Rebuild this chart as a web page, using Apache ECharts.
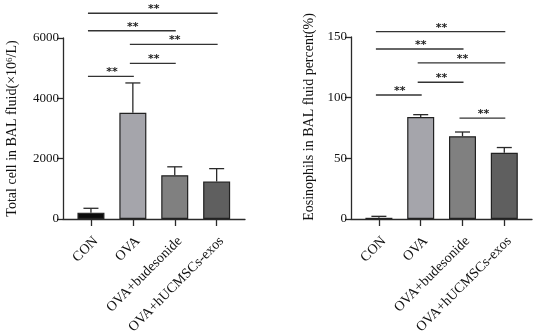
<!DOCTYPE html>
<html>
<head>
<meta charset="utf-8">
<script src="https://cdn.jsdelivr.net/npm/echarts@6/dist/echarts.min.js"></script>
<style>
  html, body { margin: 0; padding: 0; background: #fff; }
  #chart { width: 533px; height: 331px; }
</style>
</head>
<body>
<div id="chart"></div>
<script>
// groups on the x axis (same for both panels)
var groups = ['CON', 'OVA', 'OVA+budesonide', 'OVA+hUCMSCs-exos'];

// left panel: total cell count (x10^6/L), mean and upper error
var totalCell = [210, 3520, 1450, 1240];
var totalCellErr = [145, 990, 280, 430];
var totalTicks = [0, 2000, 4000, 6000];

// right panel: eosinophil percent
var eosPercent = [1.0, 84.0, 68.2, 54.6];
var eosErr = [1.2, 2.0, 3.5, 4.3];
var eosTicks = [0, 50, 100, 150];

// significance brackets: [from group, to group, bracket height in data units]
var totalSig = [[0, 1, 4730], [1, 2, 5160], [1, 3, 5790], [0, 2, 6240], [0, 3, 6820]];
var eosSig = [[0, 1, 102.2], [1, 2, 112.7], [1, 3, 128.6], [0, 2, 140.1], [0, 3, 154.4], [2, 3, 83.2]];

var barColors = ['#0b0b0b', '#a5a5ab', '#808080', '#5f5f5f'];
var ink = '#2a2a2a';
var serif = '"Liberation Serif", "Times New Roman", serif';

var myChart = echarts.init(document.getElementById('chart'));

function errRender(params, api) {
    var base = api.coord([api.value(0), api.value(1)]);
    var top = api.coord([api.value(0), api.value(1) + api.value(2)]);
    return {
        type: 'group',
        children: [
            {type: 'line', shape: {x1: base[0], y1: base[1], x2: top[0], y2: top[1]},
             style: {stroke: ink, lineWidth: 1.3}},
            {type: 'line', shape: {x1: top[0] - 7.5, y1: top[1], x2: top[0] + 7.5, y2: top[1]},
             style: {stroke: ink, lineWidth: 1.3}}
        ]
    };
}

function sigRender(params, api) {
    var a = api.coord([api.value(0), api.value(2)]);
    var b = api.coord([api.value(1), api.value(2)]);
    return {
        type: 'group',
        children: [
            {type: 'line', shape: {x1: a[0] - 3, y1: a[1], x2: b[0] + 1, y2: a[1]},
             style: {stroke: '#333', lineWidth: 1.3}},
            {type: 'text', x: (a[0] + b[0]) / 2, y: a[1] - 4,
             style: {text: '**', fill: '#222', font: 'bold 11px "DejaVu Sans"', align: 'center', verticalAlign: 'middle'}}
        ]
    };
}

function barData(vals) {
    return vals.map(function (v, i) {
        return {value: v, itemStyle: {color: barColors[i]}};
    });
}
function errData(vals, errs) {
    return vals.map(function (v, i) { return [i, v, errs[i]]; });
}

// axis line only (long x axis under the bars)
function lineXAxis(g) {
    return {
        gridIndex: g, type: 'value', min: 0, max: 1,
        axisLine: {show: true, lineStyle: {color: ink, width: 1.3}},
        axisTick: {show: false}, axisLabel: {show: false}, splitLine: {show: false}
    };
}
function catXAxis(g) {
    return {
        gridIndex: g, type: 'category', data: groups,
        axisLine: {show: false},
        axisTick: {show: true, alignWithLabel: true, length: 7, lineStyle: {color: ink, width: 1.3}},
        axisLabel: {rotate: 45, interval: 0, margin: 15, verticalAlign: 'top',
            fontFamily: serif, fontSize: 14, color: '#111'}
    };
}
function valYAxis(g, ticks, name, gap, pad) {
    return {
        gridIndex: g, type: 'value', min: ticks[0], max: ticks[ticks.length - 1],
        interval: ticks[1] - ticks[0],
        axisLine: {show: true, lineStyle: {color: ink, width: 1.3}},
        axisTick: {show: true, length: 6, lineStyle: {color: ink, width: 1.3}},
        axisLabel: {margin: 4, fontFamily: serif, fontSize: 13, color: '#111',
            formatter: function (v) { return String(v); }},
        splitLine: {show: false},
        name: name, nameLocation: 'middle', nameGap: gap,
        nameTextStyle: {fontFamily: serif, fontSize: 14, color: '#111', padding: pad,
            rich: {sup: {fontFamily: serif, fontSize: 9, color: '#111', verticalAlign: 'top', padding: [0, 0, 6, 0]}}}
    };
}
function hiddenYAxis(g, ticks) {
    return {gridIndex: g, type: 'value', min: ticks[0], max: ticks[ticks.length - 1], show: false};
}

var option = {
    animation: false,
    grid: [
        {left: 63, top: 38, width: 182, height: 181, outerBoundsMode: 'none', containLabel: false},
        {left: 70, top: 38, width: 167.6, height: 181, outerBoundsMode: 'none', containLabel: false},
        {left: 351, top: 37, width: 181, height: 182, outerBoundsMode: 'none', containLabel: false},
        {left: 358, top: 37, width: 167.2, height: 182, outerBoundsMode: 'none', containLabel: false}
    ],
    xAxis: [lineXAxis(0), catXAxis(1), lineXAxis(2), catXAxis(3)],
    yAxis: [
        valYAxis(0, totalTicks, 'Total cell in BAL fluid(×10{sup|6}/L)', 43, [0, 0, 0, 0]),
        hiddenYAxis(1, totalTicks),
        valYAxis(2, eosTicks, 'Eosinophils in BAL fluid percent(%)', 35, [0, 0, 0, 22]),
        hiddenYAxis(3, eosTicks)
    ],
    series: [
        {type: 'bar', xAxisIndex: 1, yAxisIndex: 1, data: barData(totalCell), barWidth: 27,
         itemStyle: {borderColor: '#222', borderWidth: 1.2}},
        {type: 'custom', xAxisIndex: 1, yAxisIndex: 1, data: errData(totalCell, totalCellErr),
         renderItem: errRender, clip: false, z: 3},
        {type: 'custom', xAxisIndex: 1, yAxisIndex: 1, data: totalSig, encode: {x: 0, y: 2},
         renderItem: sigRender, clip: false},
        {type: 'bar', xAxisIndex: 3, yAxisIndex: 3, data: barData(eosPercent), barWidth: 27,
         itemStyle: {borderColor: '#222', borderWidth: 1.2}},
        {type: 'custom', xAxisIndex: 3, yAxisIndex: 3, data: errData(eosPercent, eosErr),
         renderItem: errRender, clip: false, z: 3},
        {type: 'custom', xAxisIndex: 3, yAxisIndex: 3, data: eosSig, encode: {x: 0, y: 2},
         renderItem: sigRender, clip: false}
    ]
};

myChart.setOption(option);
</script>
</body>
</html>
